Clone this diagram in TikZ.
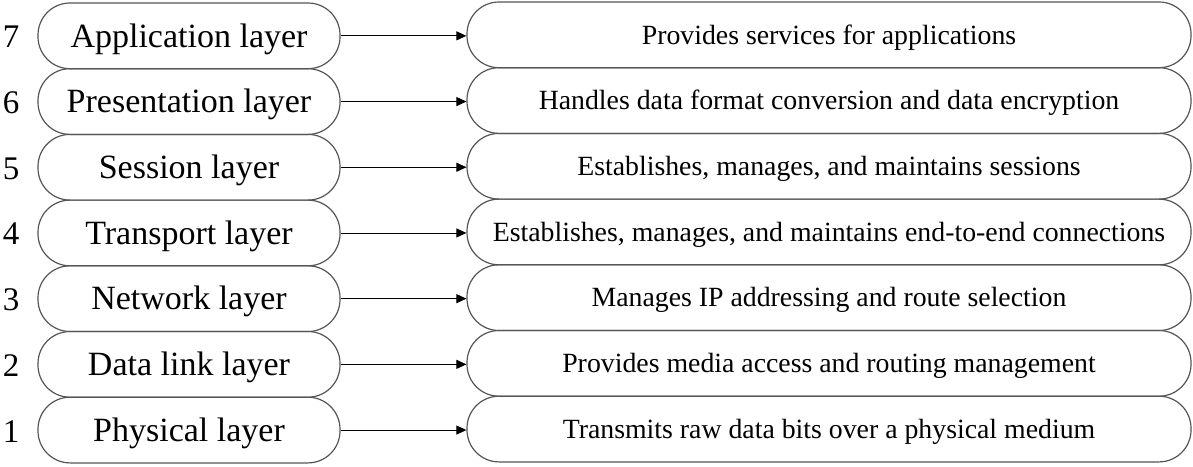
\documentclass[tikz,border=0pt]{standalone}
\usepackage{fontspec}
\setmainfont{Liberation Serif}
\usetikzlibrary{arrows.meta}
\definecolor{edge}{HTML}{555555}
\tikzset{
  layerbox/.style={draw=edge, line width=1.2pt, rounded corners=32pt, inner sep=0pt,
    minimum width=302pt, minimum height=65.7pt, text height=22.5pt, text depth=0pt,
    font=\fontsize{34}{40}\selectfont},
  descbox/.style={draw=edge, line width=1.2pt, rounded corners=32pt, inner sep=0pt,
    minimum width=724pt, minimum height=65.7pt, text height=18.4pt, text depth=0pt,
    font=\fontsize{27.8}{33}\selectfont},
  numlabel/.style={inner sep=0pt, text height=22pt, text depth=0pt,
    font=\fontsize{33}{40}\selectfont},
  link/.style={-{Triangle[length=10pt, width=9pt]}, line width=0.9pt, black}
}
\begin{document}
\begin{tikzpicture}[x=1pt, y=-1pt]
\useasboundingbox (0,0) rectangle (1193,466);
\foreach \n/\lay/\desc [count=\i from 0] in {
  7/Application layer/Provides services for applications,
  6/Presentation layer/Handles data format conversion and data encryption,
  5/Session layer/{Establishes, manages, and maintains sessions},
  4/Transport layer/{Establishes, manages, and maintains end-to-end connections},
  3/Network layer/Manages IP addressing and route selection,
  2/Data link layer/Provides media access and routing management,
  1/Physical layer/Transmits raw data bits over a physical medium}{
  \pgfmathsetmacro{\yy}{3+65.7*(\i+0.5)}
  \node[numlabel] (num\n) at (11,\yy+1) {\n};
  \node[layerbox] (L\n) at (189,\yy) {\lay};
  \node[descbox] (R\n) at (829,\yy-1) {\desc};
  \draw[link] (L\n.east) -- (R\n.west |- L\n.east);
}
\end{tikzpicture}
\end{document}
